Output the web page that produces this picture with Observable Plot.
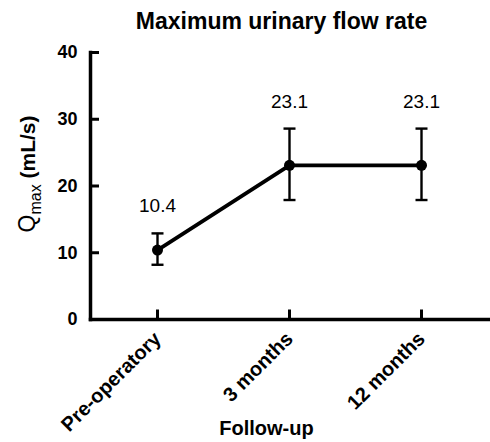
<!DOCTYPE html>
<html>
<head>
<meta charset="utf-8">
<script src="https://cdn.jsdelivr.net/npm/d3@7"></script>
<script src="https://cdn.jsdelivr.net/npm/@observablehq/plot@0.6"></script>
<style>
  html, body { margin: 0; padding: 0; background: #fff; overflow: hidden; }
  svg { font-family: "Liberation Sans", Arial, sans-serif; }
</style>
</head>
<body>
<div id="chart"></div>
<script>
const categories = ["Pre-operatory", "3 months", "12 months"];
const means = [10.4, 23.1, 23.1];
const upper = [12.9, 28.6, 28.6];
const lower = [8.2, 17.9, 17.9];
const valueLabels = ["10.4", "23.1", "23.1"];
const yTicks = [0, 10, 20, 30, 40];
const title = "Maximum urinary flow rate";
const xLabel = "Follow-up";

const data = categories.map((c, i) => ({cat: c, mean: means[i], hi: upper[i], lo: lower[i], label: valueLabels[i]}));

// horizontal cap symbol for error bars, vertical inward tick symbol for x axis
const capSymbol = {draw(ctx) { ctx.moveTo(-6, 0); ctx.lineTo(6, 0); }};
const xTickSymbol = {draw(ctx) { ctx.moveTo(0, 0); ctx.lineTo(0, -10); }};

const plot = Plot.plot({
  width: 490,
  height: 442,
  marginTop: 52,
  marginBottom: 123,
  marginLeft: 90,
  marginRight: 2,
  style: {fontFamily: "Liberation Sans, Arial, sans-serif", background: "#fff", color: "#000"},
  x: {type: "point", domain: categories, padding: 0.5},
  y: {domain: [0, 40]},
  marks: [
    Plot.frame({anchor: "left", strokeWidth: 3.5, stroke: "#000"}),
    Plot.frame({anchor: "bottom", strokeWidth: 3.5, stroke: "#000"}),
    Plot.axisY(yTicks, {tickSize: -9, tickPadding: 22, strokeWidth: 3, fontSize: 18, fontWeight: "bold", label: null, fill: "#000"}),
    Plot.axisX({tickSize: 0, tickPadding: 16, tickRotate: -45, fontSize: 20, fontWeight: "bold", label: null, fill: "#000"}),
    Plot.dot(categories, {x: d => d, frameAnchor: "bottom", symbol: xTickSymbol, r: 5, fill: "none", stroke: "#000", strokeWidth: 3}),
    Plot.ruleX(data, {x: "cat", y1: "lo", y2: "hi", strokeWidth: 2.4, stroke: "#000"}),
    Plot.dot(data, {x: "cat", y: "hi", symbol: capSymbol, r: 6, fill: "none", stroke: "#000", strokeWidth: 2.4}),
    Plot.dot(data, {x: "cat", y: "lo", symbol: capSymbol, r: 6, fill: "none", stroke: "#000", strokeWidth: 2.4}),
    Plot.line(data, {x: "cat", y: "mean", strokeWidth: 3.8, stroke: "#000"}),
    Plot.dot(data, {x: "cat", y: "mean", r: 5.5, fill: "#000", stroke: "none"}),
    Plot.text(data, {x: "cat", y: "hi", text: "label", dy: -27, fontSize: 19, fill: "#000"}),
    Plot.text([title], {frameAnchor: "top", lineAnchor: "middle", dx: -8, dy: -31, fontSize: 23, fontWeight: "bold", fill: "#000"}),
    Plot.text([xLabel], {frameAnchor: "bottom", lineAnchor: "bottom", dx: -23, dy: 115, fontSize: 20, fontWeight: "bold", fill: "#000"}),
    Plot.text(["Qmax (mL/s)"], {frameAnchor: "left", textAnchor: "middle", lineAnchor: "middle", dx: -63, dy: -12, rotate: -90, fontSize: 22, fill: "#000", className: "ylab"})
  ]
});

document.getElementById("chart").appendChild(plot);

// Rich y-axis label with subscript
const t = d3.select(plot).select(".ylab text");
t.text(null);
t.append("tspan").attr("font-weight", "normal").attr("font-size", 23).text("Q");
t.append("tspan").attr("font-weight", "normal").attr("font-size", 16).attr("dy", 6).text("max");
t.append("tspan").attr("font-weight", "bold").attr("font-size", 21).attr("dy", -6).text(" (mL/s)");
</script>
</body>
</html>
